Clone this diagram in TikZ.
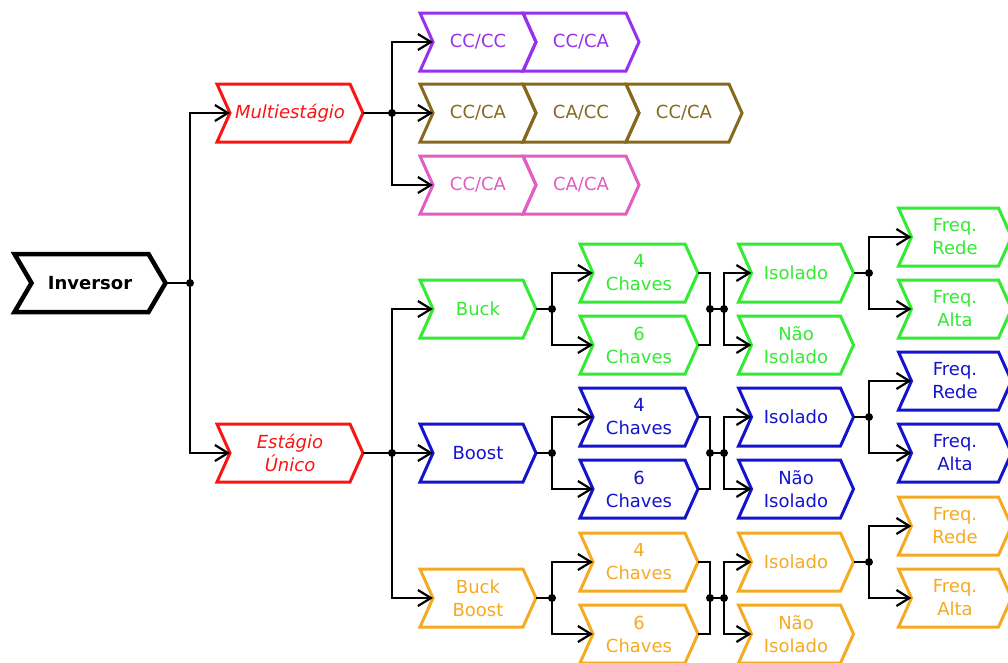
\documentclass[tikz,border=0pt]{standalone}
\usepackage{fontspec}
\setmainfont{DejaVu Sans}
\usetikzlibrary{arrows.meta}

% Chevron shape: notched west side, pointed east side.
% Anchors: notch (inner point of the west notch), tip (east point).
\makeatletter
\newdimen\chevd \chevd=13pt
\newdimen\chxa \newdimen\chxb \newdimen\chya \newdimen\chyb
\newdimen\chym \newdimen\chdd
\pgfkeys{/tikz/chevron depth/.code={\chevd=#1\relax}}
\pgfdeclareshape{chevron}{
  \inheritsavedanchors[from=rectangle]
  \inheritanchorborder[from=rectangle]
  \inheritanchor[from=rectangle]{center}
  \inheritanchor[from=rectangle]{north}
  \inheritanchor[from=rectangle]{south}
  \savedmacro\chdepth{\edef\chdepth{\the\chevd}}
  \anchor{notch}{%
    \southwest \pgf@xa=\pgf@x \pgf@ya=\pgf@y
    \northeast \pgf@y=.5\pgf@y \advance\pgf@y by .5\pgf@ya
    \chdd=\chdepth\relax
    \pgf@x=\pgf@xa \advance\pgf@x by .5\chdd}
  \anchor{tip}{%
    \southwest \pgf@ya=\pgf@y
    \northeast \pgf@y=.5\pgf@y \advance\pgf@y by .5\pgf@ya
    \chdd=\chdepth\relax
    \advance\pgf@x by .5\chdd}
  \backgroundpath{%
    \southwest \chxa=\pgf@x \chya=\pgf@y
    \northeast \chxb=\pgf@x \chyb=\pgf@y
    \chdd=\chdepth\relax
    \chym=.5\chya \advance\chym by .5\chyb
    \advance\chxa by -.5\chdd \advance\chxb by -.5\chdd
    \pgfpathmoveto{\pgfqpoint{\chxa}{\chyb}}
    \pgfpathlineto{\pgfqpoint{\chxb}{\chyb}}
    \advance\chxb by \chdd
    \pgfpathlineto{\pgfqpoint{\chxb}{\chym}}
    \advance\chxb by -\chdd
    \pgfpathlineto{\pgfqpoint{\chxb}{\chya}}
    \pgfpathlineto{\pgfqpoint{\chxa}{\chya}}
    \advance\chxa by \chdd
    \pgfpathlineto{\pgfqpoint{\chxa}{\chym}}
    \pgfpathclose
  }
}
\makeatother

\definecolor{cred}{RGB}{250,20,20}
\definecolor{cpur}{RGB}{150,50,235}
\definecolor{cbrn}{RGB}{135,105,30}
\definecolor{cpnk}{RGB}{225,95,195}
\definecolor{cgrn}{RGB}{50,235,50}
\definecolor{cblu}{RGB}{20,20,205}
\definecolor{corg}{RGB}{245,170,35}

\tikzset{
  box/.style={shape=chevron, draw=#1, text=#1, line width=3pt,
    minimum height=58pt, inner sep=0pt, outer sep=0pt, align=center,
    font=\fontsize{18}{23}\selectfont},
  wire/.style={draw=black, line width=2.2pt},
  arr/.style={wire, -{Straight Barb[length=13pt,width=16pt]}},
}

% One converter branch: converter, switch count, isolation, frequency
\newcommand\convgroup[4]{%
  \node[box=#3, minimum width=103pt] (#1conv) at (478,#2) {#4};
  \node[box=#3, minimum width=105pt] (#1k4) at (639,#2-36) {4\\Chaves};
  \node[box=#3, minimum width=105pt] (#1k6) at (639,#2+36) {6\\Chaves};
  \node[box=#3, minimum width=102pt] (#1iso) at (796,#2-36) {Isolado};
  \node[box=#3, minimum width=102pt] (#1niso) at (796,#2+36) {Não\\Isolado};
  \node[box=#3, minimum width=100pt] (#1rede) at (955,#2-72) {Freq.\\Rede};
  \node[box=#3, minimum width=100pt] (#1alta) at (955,#2) {Freq.\\Alta};
  \coordinate (#1ja) at (552,#2);
  \coordinate (#1jb) at (710,#2);
  \coordinate (#1jc) at (724,#2);
  \coordinate (#1jd) at (869,#2-36);
  \draw[wire] (#1conv.tip) -- (#1ja);
  \draw[arr] (#1ja) |- (#1k4.notch);
  \draw[arr] (#1ja) |- (#1k6.notch);
  \draw[wire] (#1k4.tip) -| (#1jb) |- (#1k6.tip);
  \draw[wire] (#1jb) -- (#1jc);
  \draw[arr] (#1jc) |- (#1iso.notch);
  \draw[arr] (#1jc) |- (#1niso.notch);
  \draw[wire] (#1iso.tip) -- (#1jd);
  \draw[arr] (#1jd) |- (#1rede.notch);
  \draw[arr] (#1jd) |- (#1alta.notch);
  \foreach \c in {ja,jb,jc,jd} \fill (#1\c) circle (4pt);
}

\begin{document}
\begin{tikzpicture}[x=1pt,y=-1pt]
\fill[white] (0,0) rectangle (1008,662);
\useasboundingbox (0,0) rectangle (1008,662);

% root and the two stage types
\node[box=black, line width=4.5pt, chevron depth=17pt, minimum width=134pt,
      font=\bfseries\fontsize{18}{23}\selectfont] (inv) at (90,283) {Inversor};
\node[box=cred, minimum width=133pt, font=\itshape\fontsize{18}{23}\selectfont]
      (multi) at (290,113) {Multiestágio};
\node[box=cred, minimum width=133pt, font=\itshape\fontsize{18}{23}\selectfont]
      (unico) at (290,453) {Estágio\\Único};

\coordinate (j0) at (190,283);
\draw[wire] (inv.tip) -- (j0);
\draw[arr] (j0) |- (multi.notch);
\draw[arr] (j0) |- (unico.notch);

% multistage conversion chains
\node[box=cpur, minimum width=103pt] (pa) at (478,42) {CC/CC};
\node[box=cpur, minimum width=103pt] (pb) at (581,42) {CC/CA};
\node[box=cbrn, minimum width=103pt] (ba) at (478,113) {CC/CA};
\node[box=cbrn, minimum width=103pt] (bb) at (581,113) {CA/CC};
\node[box=cbrn, minimum width=103pt] (bc) at (684,113) {CC/CA};
\node[box=cpnk, minimum width=103pt] (ka) at (478,185) {CC/CA};
\node[box=cpnk, minimum width=103pt] (kb) at (581,185) {CA/CA};

\coordinate (j1) at (392,113);
\draw[wire] (multi.tip) -- (j1);
\draw[arr] (j1) |- (pa.notch);
\draw[arr] (j1) -- (ba.notch);
\draw[arr] (j1) |- (ka.notch);

% single stage branches
\convgroup{a}{309}{cgrn}{Buck}
\convgroup{b}{453}{cblu}{Boost}
\convgroup{c}{598}{corg}{Buck\\Boost}

\coordinate (j2) at (392,453);
\draw[wire] (unico.tip) -- (j2);
\draw[arr] (j2) |- (aconv.notch);
\draw[arr] (j2) -- (bconv.notch);
\draw[arr] (j2) |- (cconv.notch);

\foreach \c in {j0,j1,j2} \fill (\c) circle (4pt);
\end{tikzpicture}
\end{document}
